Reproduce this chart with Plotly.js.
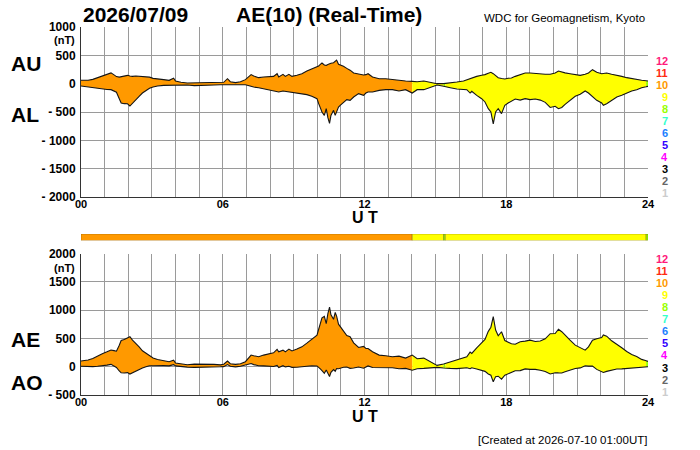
<!DOCTYPE html>
<html>
<head>
<meta charset="utf-8">
<script src="https://cdn.plot.ly/plotly-3.0.1.min.js"></script>
<style>
html,body{margin:0;padding:0;background:#fff;}
#chart{width:700px;height:450px;}
</style>
</head>
<body>
<div id="chart"></div>
<script>
// ---- data ----
const hours = [0.00,0.15,0.30,0.50,0.70,0.90,1.10,1.27,1.40,1.50,1.62,1.70,1.83,1.97,2.07,2.18,2.32,2.46,2.60,2.75,2.90,3.05,3.24,3.50,3.73,3.85,3.92,4.00,4.23,4.50,4.80,5.07,5.35,5.63,5.90,6.04,6.20,6.32,6.54,6.75,6.96,7.10,7.20,7.31,7.52,7.73,7.94,8.15,8.30,8.37,8.55,8.65,8.80,8.93,9.14,9.35,9.56,9.77,9.99,10.06,10.13,10.20,10.30,10.38,10.45,10.52,10.58,10.69,10.76,10.82,10.90,10.97,11.11,11.25,11.39,11.54,11.75,11.96,12.06,12.15,12.34,12.62,12.90,13.18,13.46,13.74,14.02,14.23,14.51,14.79,15.07,15.35,15.42,15.63,15.91,16.19,16.33,16.47,16.54,16.75,16.96,17.10,17.24,17.35,17.45,17.55,17.66,17.80,17.94,18.08,18.22,18.38,18.59,18.80,19.01,19.23,19.44,19.65,19.86,20.07,20.21,20.35,20.49,20.70,20.92,21.13,21.34,21.48,21.65,21.83,22.04,22.11,22.25,22.46,22.68,22.89,23.10,23.31,23.52,23.73,23.92,24.00];
const AU = [60,58,60,76,106,129,160,190,155,125,115,125,129,147,135,129,135,129,118,120,115,94,88,71,59,80,95,47,24,12,12,12,18,18,15,24,88,35,18,35,71,120,160,135,106,118,118,129,176,118,165,129,165,129,147,176,223,259,294,310,341,365,330,323,340,353,360,370,400,416,341,330,306,270,238,188,165,153,159,176,118,88,88,71,59,47,41,35,47,24,0,0,2,12,29,47,70,94,100,129,150,160,185,200,176,150,106,90,82,95,100,129,153,188,188,176,165,165,165,188,223,200,190,176,159,147,165,188,247,200,176,180,188,165,153,129,106,88,76,59,52,47];
const AL = [-41,-50,-59,-71,-88,-100,-104,-106,-130,-150,-265,-340,-353,-355,-395,-341,-282,-223,-165,-118,-80,-60,-41,-30,-29,-25,-20,-18,-22,-24,-35,-35,-30,-24,-18,-20,-12,-18,-24,-18,-18,-35,-47,-60,-71,-88,-106,-118,-130,-147,-129,-135,-147,-150,-165,-176,-194,-223,-265,-353,-420,-500,-560,-441,-600,-700,-560,-470,-560,-480,-412,-382,-323,-282,-294,-235,-176,-206,-165,-147,-147,-118,-106,-106,-129,-106,-165,-106,-106,-71,-24,-47,-55,-71,-94,-106,-106,-165,-135,-206,-265,-323,-441,-500,-710,-500,-441,-529,-382,-341,-306,-270,-290,-265,-282,-270,-290,-330,-420,-400,-441,-420,-365,-294,-223,-188,-129,-165,-223,-294,-340,-382,-353,-294,-235,-206,-165,-129,-106,-71,-55,-47];

// number of contributing stations through the day
const stationStart = [0, 14.02, 15.35, 15.42, 23.92];
const stationEnd   = [14.02, 15.35, 15.42, 23.92, 24];
const stationCount = [10, 9, 8, 9, 8];

// station-number colour key
const levelLabels = ['12','11','10','9','8','7','6','5','4','3','2','1'];
const levelColors = ['#ff1a7a','#ff2a10','#ff9900','#ffff00','#99ff00','#33ffcc','#1a80ff','#3300ff','#ff00ff','#000000','#666666','#cccccc'];

// axis ticks
const hourTicks = [0,1,2,3,4,5,6,7,8,9,10,11,12,13,14,15,16,17,18,19,20,21,22,23,24];
const hourTickText = ['00','','','','','','06','','','','','','12','','','','','','18','','','','','','24'];
const topYTicks = [1000,500,0,-500,-1000,-1500,-2000];
const topYText = ['1000','500','0','- 500','- 1000','- 1500','- 2000'];
const botYTicks = [2000,1500,1000,500,0,-500];
const botYText = ['2000','1500','1000','500','0','- 500'];

// derived indices: AE = AU - AL, AO = (AU + AL)/2
const AE = AU.map((u,i)=>u-AL[i]);
const AO = AU.map((u,i)=>(u+AL[i])/2);

// ---- drawing ----
const W=700,H=450,ML=81,MR=52;
const px2x = p => (p-ML)/(W-ML-MR);
const py2y = p => 1 - p/H;
const FONT = '"Liberation Sans", Arial, Helvetica, sans-serif';
const colorOf = n => levelColors[levelLabels.indexOf(String(n))];

function segIdx(a,b){
  const r=[];
  hours.forEach((t,i)=>{ if(t>=a-1e-9 && t<=b+1e-9) r.push(i); });
  return r;
}

const traces=[];
function band(lower, upper, xa, ya){
  stationCount.forEach((n,k)=>{
    const idx = segIdx(stationStart[k], stationEnd[k]);
    const xs = idx.map(i=>hours[i]);
    traces.push({x:xs, y:idx.map(i=>lower[i]), mode:'lines', line:{width:0, color:colorOf(n)},
      xaxis:xa, yaxis:ya, hoverinfo:'skip', showlegend:false});
    traces.push({x:xs, y:idx.map(i=>upper[i]), mode:'lines', line:{width:0, color:colorOf(n)},
      fill:'tonexty', fillcolor:colorOf(n), xaxis:xa, yaxis:ya, hoverinfo:'skip', showlegend:false});
  });
  [lower, upper].forEach(s=>{
    traces.push({x:hours, y:s, mode:'lines', line:{width:1.1, color:'#151515'},
      xaxis:xa, yaxis:ya, hoverinfo:'skip', showlegend:false});
  });
}
band(AL, AU, 'x', 'y');
band(AO, AE, 'x2', 'y2');

// station count strip
traces.push({type:'bar', orientation:'h', y:stationCount.map(()=>0),
  x:stationStart.map((s,k)=>stationEnd[k]-s), base:stationStart, width:stationCount.map(()=>1),
  marker:{color:stationCount.map(colorOf), line:{color:'rgba(90,70,0,0.45)', width:0.8}},
  xaxis:'x3', yaxis:'y3', hoverinfo:'skip', showlegend:false});

const tickFont = {family:FONT, size:12, color:'#000', weight:'bold'};
const xTickFont = {family:FONT, size:11, color:'#000', weight:'bold'};
const xBase = {range:[0,24], tickvals:hourTicks, ticktext:hourTickText, showgrid:true,
  gridcolor:'#9a9a9a', gridwidth:1, zeroline:false, showline:true, linecolor:'#333', linewidth:1,
  ticks:'', tickfont:xTickFont, fixedrange:true, tickangle:0, ticklabelstandoff:-3};
const yBase = {showgrid:true, gridcolor:'#9a9a9a', gridwidth:1, zeroline:false, showline:true,
  linecolor:'#333', linewidth:1, ticks:'', tickfont:tickFont, fixedrange:true, ticklabelstandoff:2};

const ann=[];
function txt(text,x,y,opt){
  ann.push(Object.assign({text:text, xref:'paper', yref:'paper', x:px2x(x), y:py2y(y),
    showarrow:false, xanchor:'left', yanchor:'middle',
    font:{family:FONT, size:12, color:'#000'}}, opt||{}));
}
txt('2026/07/09', 81, 15, {font:{family:FONT,size:21,color:'#000',weight:'bold'}});
txt('AE(10) (Real-Time)', 234, 15, {font:{family:FONT,size:21,color:'#000',weight:'bold'}});
txt('WDC for Geomagnetism, Kyoto', 647, 18, {xanchor:'right', font:{family:FONT,size:11.5,color:'#000'}});
const nt = {family:FONT, size:11, color:'#000', weight:'bold'};
txt('(nT)', 77, 40, {xanchor:'right', font:nt});
txt('(nT)', 77, 267.5, {xanchor:'right', font:nt});
const big = {family:FONT,size:21,color:'#000',weight:'bold'};
txt('AU', 9, 63, {font:big});
txt('AL', 9, 115, {font:big});
txt('AE', 9, 339, {font:big});
txt('AO', 9, 382, {font:big});
const ut = {family:FONT,size:16,color:'#000',weight:'bold'};
txt('U T', 365, 217, {xanchor:'center', font:ut});
txt('U T', 365, 416.5, {xanchor:'center', font:ut});
txt('[Created at 2026-07-10 01:00UT]', 649, 440, {xanchor:'right', font:{family:FONT,size:11.5,color:'#000'}});
levelLabels.forEach((l,i)=>{
  const f = {family:FONT,size:11,color:levelColors[i],weight:'bold'};
  txt(l, 670, 60.5+i*12.06, {xanchor:'right', font:f});
  txt(l, 670, 259+i*12.06, {xanchor:'right', font:f});
});

const layout = {
  width:W, height:H, margin:{l:ML, r:MR, t:0, b:0, pad:0},
  paper_bgcolor:'#fff', plot_bgcolor:'#fff', showlegend:false, barmode:'overlay',
  font:{family:FONT, color:'#000'},
  xaxis: Object.assign({}, xBase, {anchor:'y'}),
  yaxis: Object.assign({}, yBase, {domain:[py2y(197), py2y(27)], range:[-2000,1000],
    tickvals:topYTicks, ticktext:topYText, anchor:'x'}),
  xaxis2: Object.assign({}, xBase, {anchor:'y2'}),
  yaxis2: Object.assign({}, yBase, {domain:[py2y(395), py2y(253.7)], range:[-500,2000],
    tickvals:botYTicks, ticktext:botYText, anchor:'x2'}),
  xaxis3: {range:[0,24], visible:false, anchor:'y3', fixedrange:true},
  yaxis3: {range:[-0.5,0.5], visible:false, domain:[py2y(240.5), py2y(234)], anchor:'x3', fixedrange:true},
  annotations: ann
};
Plotly.newPlot('chart', traces, layout, {staticPlot:true, displayModeBar:false});
</script>
</body>
</html>
